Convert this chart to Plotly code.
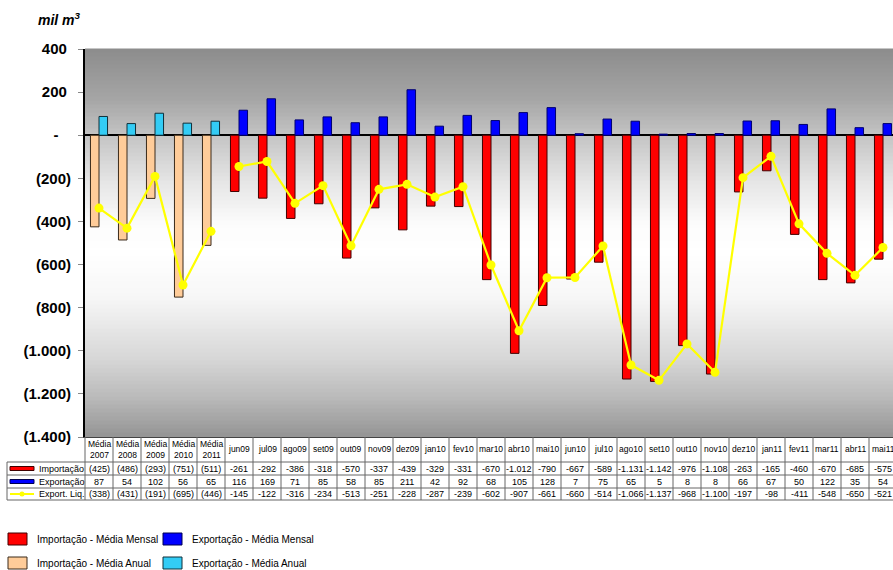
import plotly.graph_objects as go

# --- data (mil m3) ---------------------------------------------------------
annual_labels = ["Média 2007", "Média 2008", "Média 2009", "Média 2010", "Média 2011"]
imp_annual = [-425, -486, -293, -751, -511]
exp_annual = [87, 54, 102, 56, 65]
liq_annual = [-338, -431, -191, -695, -446]

months = ["jun09", "jul09", "ago09", "set09", "out09", "nov09", "dez09",
          "jan10", "fev10", "mar10", "abr10", "mai10", "jun10", "jul10",
          "ago10", "set10", "out10", "nov10", "dez10", "jan11", "fev11",
          "mar11", "abr11", "mai11"]
imp_month = [-261, -292, -386, -318, -570, -337, -439, -329, -331, -670, -1012,
             -790, -667, -589, -1131, -1142, -976, -1108, -263, -165, -460,
             -670, -685, -575]
exp_month = [116, 169, 71, 85, 58, 85, 211, 42, 92, 68, 105, 128, 7, 75, 65,
             5, 8, 8, 66, 67, 50, 122, 35, 54]
liq_month = [-145, -122, -316, -234, -513, -251, -228, -287, -239, -602, -907,
             -661, -660, -514, -1066, -1137, -968, -1100, -197, -98, -411,
             -548, -650, -521]

y_ticks = [400, 200, 0, -200, -400, -600, -800, -1000, -1200, -1400]

categories = annual_labels + months

# --- styles ----------------------------------------------------------------
RED, BLUE, PEACH, CYAN, YELLOW = "#ff0000", "#0000ff", "#ffcc99", "#33ccf5", "#ffff00"
FONT = "Liberation Sans, Arial, sans-serif"

W, H = 893, 570
L, T, BOT = 85, 49, 437
PW, PH = W - L, BOT - T


def px(p):
    return (p - L) / PW


def py(p):
    return (BOT - p) / PH


def thousands(v):
    return f"{abs(v):,}".replace(",", ".")


def fmt_annual(v):
    return f"({thousands(v)})" if v < 0 else thousands(v)


def fmt_month(v):
    return ("-" if v < 0 else "") + thousands(v)


def fmt_tick(v):
    if v == 0:
        return "-" + "\u00a0" * 3
    return f"({thousands(v)})" if v < 0 else thousands(v) + "\u00a0"


fig = go.Figure()

bar_common = dict(marker_line_width=1)
fig.add_trace(go.Bar(x=annual_labels, y=imp_annual, offsetgroup="imp",
                     marker_color=PEACH, marker_line_color="#3a2a1a",
                     name="Importação - Média Anual", **bar_common))
fig.add_trace(go.Bar(x=annual_labels, y=exp_annual, offsetgroup="exp",
                     marker_color=CYAN, marker_line_color="#10303a",
                     name="Exportação - Média Anual", **bar_common))
fig.add_trace(go.Bar(x=months, y=imp_month, offsetgroup="imp",
                     marker_color=RED, marker_line_color="#400000",
                     name="Importação - Média Mensal", **bar_common))
fig.add_trace(go.Bar(x=months, y=exp_month, offsetgroup="exp",
                     marker_color=BLUE, marker_line_color="#000070",
                     name="Exportação - Média Mensal", **bar_common))

line_style = dict(mode="lines+markers", line=dict(color=YELLOW, width=2.2),
                  marker=dict(color=YELLOW, size=9), showlegend=False)
fig.add_trace(go.Scatter(x=annual_labels, y=liq_annual, name="Export. Liq.", **line_style))
fig.add_trace(go.Scatter(x=months, y=liq_month, name="Export. Liq.", **line_style))

shapes = []

# vertical background gradient of the plot area
stops = [(49, 140), (100, 166), (136, 196), (180, 228), (225, 252), (255, 255),
         (300, 246), (360, 214), (400, 184), (437, 148)]
step = 4
y = T
while y < BOT:
    yc = y + step / 2
    for (a, ca), (b, cb) in zip(stops[:-1], stops[1:]):
        if a <= yc <= b:
            g = round(ca + (cb - ca) * (yc - a) / (b - a))
            break
    shapes.append(dict(type="rect", xref="paper", yref="paper", x0=0, x1=1,
                       y0=py(min(y + step, BOT)), y1=py(y) + 0.001,
                       fillcolor=f"rgb({g},{g},{g})", line_width=0, layer="below"))
    y += step

# data table under the chart
GRID = "#666666"
for r in [462, 475, 488, 500]:
    shapes.append(dict(type="line", xref="paper", yref="paper", x0=px(7), x1=1.01,
                       y0=py(r), y1=py(r), line=dict(color=GRID, width=1)))
shapes.append(dict(type="line", xref="paper", yref="paper", x0=px(7), x1=px(7),
                   y0=py(462), y1=py(500), line=dict(color=GRID, width=1)))
shapes.append(dict(type="line", xref="paper", yref="paper", x0=0, x1=0,
                   y0=py(437), y1=py(500), line=dict(color=GRID, width=1)))
for i in range(len(categories)):
    shapes.append(dict(type="line", xref="x", yref="paper", x0=i + 0.5, x1=i + 0.5,
                       y0=py(437), y1=py(500), line=dict(color=GRID, width=1)))

annotations = []
tfont = dict(family=FONT, size=9, color="black")
for c in categories:
    annotations.append(dict(x=c, y=py(449.5), xref="x", yref="paper",
                            text=c.replace(" ", "<br>"), showarrow=False,
                            xanchor="center", yanchor="middle",
                            font=dict(family=FONT, size=8.5, color="black")))

rows = [
    ("Importação", [fmt_annual(v) for v in imp_annual] + [fmt_month(v) for v in imp_month], 468.5),
    ("Exportação", [fmt_annual(v) for v in exp_annual] + [fmt_month(v) for v in exp_month], 481.5),
    ("Export. Liq.", [fmt_annual(v) for v in liq_annual] + [fmt_month(v) for v in liq_month], 494),
]
for label, vals, yc in rows:
    annotations.append(dict(x=px(37), y=py(yc), xref="paper", yref="paper", text=label,
                            showarrow=False, xanchor="left", yanchor="middle", font=tfont))
    for c, s in zip(categories, vals):
        annotations.append(dict(x=c, y=py(yc), xref="x", yref="paper", text=s,
                                showarrow=False, xanchor="center", yanchor="middle",
                                font=tfont))

# row swatches
shapes.append(dict(type="rect", xref="paper", yref="paper", x0=px(10), x1=px(34),
                   y0=py(470.5), y1=py(466.5), fillcolor=RED, line=dict(color="#400000", width=1)))
shapes.append(dict(type="rect", xref="paper", yref="paper", x0=px(10), x1=px(34),
                   y0=py(483.5), y1=py(479.5), fillcolor=BLUE, line=dict(color="#000050", width=1)))
shapes.append(dict(type="line", xref="paper", yref="paper", x0=px(10), x1=px(34),
                   y0=py(494), y1=py(494), line=dict(color=YELLOW, width=2)))
shapes.append(dict(type="circle", xref="paper", yref="paper", x0=px(19.5), x1=px(24.5),
                   y0=py(496.5), y1=py(491.5), fillcolor=YELLOW, line_width=0))

# legend block
legend_items = [
    ("Importação - Média Mensal", RED, "#400000", 8, 539),
    ("Exportação - Média Mensal", BLUE, "#000050", 163, 539),
    ("Importação - Média Anual", PEACH, "#3a2a1a", 8, 563),
    ("Exportação - Média Anual", CYAN, "#10303a", 163, 563),
]
for text, fill, edge, x0, yc in legend_items:
    shapes.append(dict(type="rect", xref="paper", yref="paper", x0=px(x0), x1=px(x0 + 19),
                       y0=py(yc + 6), y1=py(yc - 6), fillcolor=fill,
                       line=dict(color=edge, width=1)))
    annotations.append(dict(x=px(x0 + 27), y=py(yc), xref="paper", yref="paper", text=text,
                            showarrow=False, xanchor="left", yanchor="middle",
                            font=dict(family=FONT, size=10, color="black")))

# unit label
annotations.append(dict(x=px(36), y=py(19), xref="paper", yref="paper",
                        text="mil m<sup>3</sup>", showarrow=False,
                        xanchor="left", yanchor="middle",
                        font=dict(family=FONT, size=14, color="black",
                                  style="italic", weight="bold")))

fig.update_layout(
    width=W, height=H, autosize=False,
    margin=dict(l=L, r=0, t=T, b=H - BOT, pad=0),
    paper_bgcolor="white", plot_bgcolor="white",
    barmode="group", bargap=0.39, bargroupgap=0,
    showlegend=False,
    shapes=shapes, annotations=annotations,
    xaxis=dict(type="category", categoryorder="array", categoryarray=categories,
               range=[-0.5, -0.5 + PW / 28], showticklabels=False, ticks="",
               showgrid=False, zeroline=False, showline=True,
               linecolor="#444444", linewidth=1, fixedrange=True),
    yaxis=dict(range=[-1400, 400], tickvals=y_ticks,
               ticktext=[fmt_tick(v) for v in y_ticks],
               tickfont=dict(family=FONT, size=15, color="black", weight="bold"),
               ticks="outside", ticklen=5, tickcolor="#888888", ticklabelstandoff=4,
               showgrid=False, showline=True, linecolor="black", linewidth=2,
               zeroline=True, zerolinecolor="black", zerolinewidth=2,
               fixedrange=True),
)

fig.write_html("out.html", config={"displayModeBar": False})
